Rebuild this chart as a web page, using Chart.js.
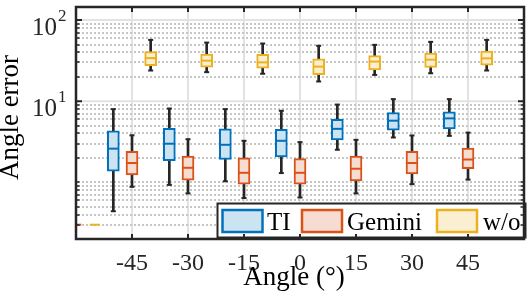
<!DOCTYPE html>
<html><head><meta charset="utf-8">
<script src="https://cdn.jsdelivr.net/npm/chart.js@4/dist/chart.umd.min.js"></script>
<style>html,body{margin:0;padding:0;background:#fff;overflow:hidden}</style>
</head><body>
<canvas id="c" width="531" height="297"></canvas>
<script>
// ---------- data ----------
const angles = [-45, -30, -15, 0, 15, 30, 45];
const xTickLabels = ['-45', '-30', '-15', '0', '15', '30', '45'];
const yTickValues = [10, 100];
const seriesNames = ['TI', 'Gemini', 'w/o'];

const tiMin = [0.44, 0.93, 1.03, 1.30, 2.52, 3.57, 3.74];
const tiQ1  = [1.37, 1.85, 1.91, 2.05, 3.34, 4.38, 4.56];
const tiMed = [2.60, 2.99, 2.90, 3.25, 4.56, 5.75, 6.14];
const tiQ3  = [4.31, 4.64, 4.56, 4.51, 5.97, 7.26, 7.41];
const tiMax = [7.98, 8.13, 7.98, 7.62, 9.09, 10.6, 10.6];

const gemMin = [0.88, 0.73, 0.64, 0.65, 0.73, 0.95, 1.08];
const gemQ1  = [1.23, 1.06, 0.95, 0.95, 1.04, 1.27, 1.47];
const gemMed = [1.73, 1.51, 1.31, 1.31, 1.47, 1.73, 1.91];
const gemQ3  = [2.41, 2.10, 2.00, 1.96, 2.10, 2.41, 2.64];
const gemMax = [3.80, 3.40, 3.25, 3.13, 3.34, 3.78, 4.10];

const woMin = [23.9, 22.8, 21.8, 17.5, 21.1, 22.1, 23.9];
const woQ1  = [27.5, 26.2, 25.5, 21.2, 24.3, 26.0, 27.9];
const woMed = [34.0, 31.6, 30.1, 26.7, 30.8, 32.5, 33.7];
const woQ3  = [41.0, 38.0, 37.7, 33.4, 36.4, 39.2, 41.4];
const woMax = [57.0, 52.8, 51.4, 48.2, 49.5, 53.9, 57.0];

// stray legend-proxy dashes at the far left (x, y)
const gemProxyX = [-60, -58.6];
const woProxyX = [-56.3, -53.6];
const proxyY = [0.3, 0.3];

// ---------- styling ----------
const stats = [
  {min: tiMin, q1: tiQ1, med: tiMed, q3: tiQ3, max: tiMax},
  {min: gemMin, q1: gemQ1, med: gemMed, q3: gemQ3, max: gemMax},
  {min: woMin, q1: woQ1, med: woMed, q3: woQ3, max: woMax}
];
const offsets = [-5, 0, 5];
const edge = ['#0072BD', '#D95319', '#EDB120'];
const fill = ['#CCE3F2', '#F7DDD1', '#FBEFD2'];
const ink = '#262626';
const SERIF = '"Liberation Serif", "DejaVu Serif", serif';

const datasets = [];
stats.forEach((s, k) => {
  const xs = angles.map(a => a + offsets[k]);
  datasets.push({
    type: 'bar', label: seriesNames[k] + ' whisker', order: 10,
    data: xs.map((x, i) => ({x, y: [s.min[i], s.max[i]]})),
    backgroundColor: ink, borderWidth: 0, barThickness: 2, grouped: false
  });
  datasets.push({
    type: 'bar', label: seriesNames[k], order: 5,
    data: xs.map((x, i) => ({x, y: [s.q1[i], s.q3[i]]})),
    backgroundColor: fill[k], borderColor: edge[k], borderWidth: 2,
    borderSkipped: false, barThickness: 12, grouped: false
  });
  datasets.push({
    type: 'line', label: seriesNames[k] + ' median', order: 1, showLine: false,
    data: xs.map((x, i) => ({x, y: s.med[i]})),
    pointStyle: 'line', pointRadius: 5, pointBorderWidth: 2,
    borderColor: edge[k], pointBorderColor: edge[k], backgroundColor: edge[k]
  });
  datasets.push({
    type: 'line', label: seriesNames[k] + ' caps', order: 2, showLine: false,
    data: xs.map((x, i) => ({x, y: s.min[i]})).concat(xs.map((x, i) => ({x, y: s.max[i]}))),
    pointStyle: 'line', pointRadius: 2.5, pointBorderWidth: 2,
    borderColor: ink, pointBorderColor: ink, backgroundColor: ink
  });
});
datasets.push({
  type: 'line', label: 'proxy1', order: 0, data: gemProxyX.map((x, i) => ({x, y: proxyY[i]})),
  borderColor: edge[1], borderWidth: 2, pointRadius: 0
});
datasets.push({
  type: 'line', label: 'proxy2', order: 0, data: woProxyX.map((x, i) => ({x, y: proxyY[i]})),
  borderColor: edge[2], borderWidth: 2, pointRadius: 0
});

const minorVals = [];
[0.1, 1, 10].forEach(d => { for (let m = 1; m <= 9; m++) { const v = +(m * d).toPrecision(3); if (v >= 0.2 && v !== 10 && v !== 100) minorVals.push(v); } });

const deco = {
  id: 'deco',
  beforeDatasetsDraw(chart) {
    const {ctx, chartArea: a, scales: {x, y}} = chart;
    ctx.save();
    // vertical major grid
    ctx.strokeStyle = '#E2E2E2'; ctx.lineWidth = 2;
    angles.forEach(v => { const px = x.getPixelForValue(v); ctx.beginPath(); ctx.moveTo(px, a.top); ctx.lineTo(px, a.bottom); ctx.stroke(); });
    // horizontal major grid
    yTickValues.forEach(v => { const py = y.getPixelForValue(v); ctx.beginPath(); ctx.moveTo(a.left, py); ctx.lineTo(a.right, py); ctx.stroke(); });
    // minor dotted grid
    ctx.strokeStyle = '#C6C6C6'; ctx.lineWidth = 2; ctx.setLineDash([2, 2]);
    minorVals.forEach(v => { const py = Math.round(y.getPixelForValue(v)); if (py > a.bottom - 1) return; ctx.beginPath(); ctx.moveTo(a.left + 2, py); ctx.lineTo(a.right, py); ctx.stroke(); });
    ctx.restore();
  },
  afterDatasetsDraw(chart) {
    const {ctx} = chart;
    ctx.save();
    // legend box
    const L = 217.5, T = 203.5, R = 525.5, B = 237.5;
    ctx.fillStyle = '#fff'; ctx.fillRect(L, T, R - L, B - T);
    ctx.strokeStyle = ink; ctx.lineWidth = 2; ctx.strokeRect(L, T, R - L, B - T);
    const patchX = [222.5, 302, 437];
    const textX = [267, 347, 483];
    ctx.font = '25px ' + SERIF; ctx.textBaseline = 'alphabetic'; ctx.textAlign = 'left';
    seriesNames.forEach((n, k) => {
      ctx.fillStyle = fill[k]; ctx.fillRect(patchX[k], 210, 40, 22);
      ctx.strokeStyle = edge[k]; ctx.lineWidth = 2.5; ctx.strokeRect(patchX[k], 210, 40, 22);
      ctx.fillStyle = '#000'; ctx.fillText(n, textX[k], 230);
    });
    ctx.restore();
  },
  afterDraw(chart) {
    const {ctx, chartArea: a, scales: {x, y}} = chart;
    ctx.save();
    ctx.strokeStyle = ink; ctx.lineWidth = 2.5;
    ctx.strokeRect(a.left, a.top, a.right - a.left, a.bottom - a.top);
    // x ticks (inward, top & bottom)
    ctx.lineWidth = 2;
    angles.forEach(v => { const px = x.getPixelForValue(v);
      ctx.beginPath(); ctx.moveTo(px, a.top); ctx.lineTo(px, a.top + 5); ctx.moveTo(px, a.bottom); ctx.lineTo(px, a.bottom - 5); ctx.stroke(); });
    // y ticks
    yTickValues.forEach(v => { const py = y.getPixelForValue(v);
      ctx.beginPath(); ctx.moveTo(a.left, py); ctx.lineTo(a.left + 6, py); ctx.moveTo(a.right, py); ctx.lineTo(a.right - 6, py); ctx.stroke(); });
    ctx.lineWidth = 1.5;
    minorVals.forEach(v => { const py = Math.round(y.getPixelForValue(v)); if (py > a.bottom - 1) return;
      ctx.beginPath(); ctx.moveTo(a.left, py); ctx.lineTo(a.left + 3.5, py); ctx.moveTo(a.right, py); ctx.lineTo(a.right - 3.5, py); ctx.stroke(); });
    // x tick labels
    ctx.fillStyle = ink; ctx.font = '24px ' + SERIF; ctx.textAlign = 'center'; ctx.textBaseline = 'alphabetic';
    angles.forEach((v, i) => ctx.fillText(xTickLabels[i], x.getPixelForValue(v), 270));
    // y tick labels 10^n
    yTickValues.forEach(v => { const py = y.getPixelForValue(v); const e = String(Math.round(Math.log10(v)));
      ctx.font = '25px ' + SERIF; ctx.textAlign = 'right'; ctx.fillText('10', 57, py + 15);
      ctx.font = '17px ' + SERIF; ctx.textAlign = 'left'; ctx.fillText(e, 58, py + 1); });
    // axis titles
    ctx.fillStyle = '#000'; ctx.font = '27px ' + SERIF; ctx.textAlign = 'center';
    ctx.fillText('Angle (\u00B0)', 294, 285);
    ctx.translate(18, 117.5); ctx.rotate(-Math.PI / 2);
    ctx.fillText('Angle error', 0, 0);
    ctx.restore();
  }
};

new Chart(document.getElementById('c'), {
  type: 'bar',
  data: {datasets},
  options: {
    responsive: false, devicePixelRatio: 1, animation: false, events: [],
    layout: {padding: {top: 4, right: 4, left: 0, bottom: 0}},
    plugins: {legend: {display: false}, tooltip: {enabled: false}},
    scales: {
      x: {type: 'linear', min: -60, max: 60, offset: false,
          ticks: {display: false}, grid: {display: false, drawTicks: false}, border: {display: false},
          afterFit: s => { s.height = 58; }},
      y: {type: 'logarithmic', min: 0.2, max: 145,
          ticks: {display: false}, grid: {display: false, drawTicks: false}, border: {display: false},
          afterFit: s => { s.width = 76; }}
    }
  },
  plugins: [deco]
});
</script>
</body></html>
